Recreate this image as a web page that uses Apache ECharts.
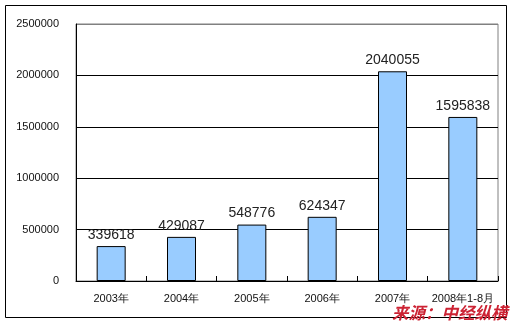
<!DOCTYPE html>
<html><head><meta charset="utf-8">
<script src="https://cdn.jsdelivr.net/npm/echarts@6/dist/echarts.min.js"></script>
<style>html,body{margin:0;padding:0;background:#fff}#c{width:515px;height:325px}</style>
</head><body><div id="c"></div>
<script>
const categories = ['2003年','2004年','2005年','2006年','2007年','2008年1-8月'];
const values = [339618, 429087, 548776, 624347, 2040055, 1595838];
const yTicks = [0, 500000, 1000000, 1500000, 2000000, 2500000];
const sourceText = '来源：中经纵横';

const chart = echarts.init(document.getElementById('c'), null, {renderer:'canvas'});
chart.setOption({
  animation: false,
  backgroundColor: '#fff',
  grid: {left: 76, top: 24, width: 422, height: 257, show: true, borderColor: '#808080', borderWidth: 1, backgroundColor: 'transparent'},
  xAxis: {
    type: 'category', data: categories,
    axisLine: {lineStyle: {color: '#000', width: 1}},
    axisTick: {show: true, inside: true, length: 5, alignWithLabel: false, lineStyle: {color: '#000'}},
    axisLabel: {fontFamily: 'Liberation Sans', fontSize: 11, color: '#111', margin: 12, interval: 0}
  },
  yAxis: {
    type: 'value', min: yTicks[0], max: yTicks[yTicks.length-1], interval: 500000,
    axisLine: {show: true, lineStyle: {color: '#000', width: 1}},
    axisTick: {show: false},
    axisLabel: {fontFamily: 'Liberation Sans', fontSize: 11, color: '#111', margin: 17, formatter: v => String(v)},
    splitLine: {show: true, lineStyle: {color: ['#000','#000','#000','#000','#000','#808080'], width: 1}}
  },
  series: [{
    type: 'bar', data: values, barWidth: 29,
    itemStyle: {color: '#99CCFF', borderColor: '#000', borderWidth: 1},
    label: {show: true, position: 'top', distance: 4, fontFamily: 'Liberation Sans', fontSize: 14, color: '#222'}
  }],
  graphic: [
    {type: 'rect', shape: {x: 5.5, y: 5.5, width: 501, height: 312}, style: {fill: 'none', stroke: '#000', lineWidth: 1}, z: -1},
    {type: 'text', x: 392, y: 304, style: {text: sourceText, fill: '#cc2233', font: 'italic bold 16.5px "Noto Sans CJK SC"'}, z: 10}
  ]
});
</script></body></html>
